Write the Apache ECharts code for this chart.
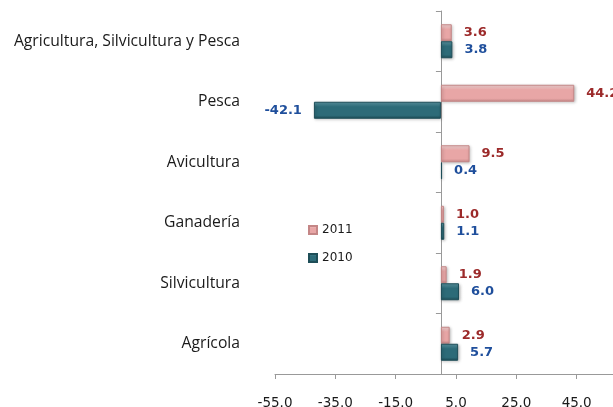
<!DOCTYPE html>
<html>
<head>
<meta charset="utf-8">
<script src="https://cdn.jsdelivr.net/npm/echarts@6/dist/echarts.min.js"></script>
<style>
html, body { margin: 0; padding: 0; background: #fff; }
#main { width: 613px; height: 407px; }
</style>
</head>
<body>
<div id="main"></div>
<script>
var categories = ['Agricultura, Silvicultura y Pesca', 'Pesca', 'Avicultura', 'Ganadería', 'Silvicultura', 'Agrícola'];
var values2011 = [3.6, 44.2, 9.5, 1.0, 1.9, 2.9];
var values2010 = [3.8, -42.1, 0.4, 1.1, 6.0, 5.7];
var xTicks = { min: -55, max: 65, step: 20 };

var myChart = echarts.init(document.getElementById('main'));

function barColor(light, mid, dark) {
    return new echarts.graphic.LinearGradient(0, 0, 0, 1, [
        { offset: 0, color: light },
        { offset: 0.3, color: mid },
        { offset: 0.8, color: mid },
        { offset: 1, color: dark }
    ]);
}

function toData(arr, color) {
    return arr.map(function (v) {
        return {
            value: v,
            label: { position: v < 0 ? 'left' : 'right', color: color }
        };
    });
}

var labelStyle = {
    show: true,
    distance: 12,
    fontFamily: 'DejaVu Sans',
    fontWeight: 'bold',
    fontSize: 13,
    formatter: function (p) { return p.value.toFixed(1); }
};

option = {
    backgroundColor: '#fff',
    animation: false,
    legend: {
        orient: 'vertical',
        left: 303,
        top: 219,
        itemWidth: 8,
        itemHeight: 8,
        itemGap: 16,
        icon: 'rect',
        textStyle: { fontSize: 12, color: '#1a1a1a', fontFamily: 'DejaVu Sans' },
        data: ['2011', '2010']
    },
    grid: { left: 275, right: -24, top: 11, bottom: 33, containLabel: false, outerBoundsMode: 'none' },
    xAxis: {
        type: 'value',
        min: xTicks.min,
        max: xTicks.max,
        interval: xTicks.step,
        splitLine: { show: false },
        axisLine: { show: true, onZero: false, lineStyle: { color: '#999' } },
        axisTick: { show: true, length: 5, lineStyle: { color: '#999' } },
        axisLabel: {
            margin: 22, fontSize: 13.5, color: '#1a1a1a', fontFamily: 'DejaVu Sans',
            formatter: function (v) { return v.toFixed(1); }
        }
    },
    yAxis: {
        type: 'category',
        inverse: true,
        data: categories,
        axisLine: { show: true, onZero: true, lineStyle: { color: '#999' } },
        axisTick: { show: true, length: 5, lineStyle: { color: '#999' } },
        axisLabel: { margin: 35, fontSize: 15.7, color: '#1a1a1a', fontFamily: 'Open Sans' }
    },
    series: [{
        name: '2011',
        type: 'bar',
        barWidth: 17,
        barGap: '0%',
        data: toData(values2011, '#9c2a2a'),
        label: labelStyle,
        itemStyle: {
            color: barColor('#f8dada', '#e8a6a6', '#c98a8a'),
            borderColor: '#c48686',
            borderWidth: 1,
            shadowColor: 'rgba(0,0,0,0.25)',
            shadowBlur: 3,
            shadowOffsetX: 1,
            shadowOffsetY: 1
        }
    }, {
        name: '2010',
        type: 'bar',
        barWidth: 17,
        barGap: '0%',
        data: toData(values2010, '#1f4f9c'),
        label: labelStyle,
        itemStyle: {
            color: barColor('#5e99a6', '#2d6b78', '#1d4c56'),
            borderColor: '#1e4e58',
            borderWidth: 1,
            shadowColor: 'rgba(0,0,0,0.25)',
            shadowBlur: 3,
            shadowOffsetX: 1,
            shadowOffsetY: 1
        }
    }]
};
myChart.setOption(option);
</script>
</body>
</html>
